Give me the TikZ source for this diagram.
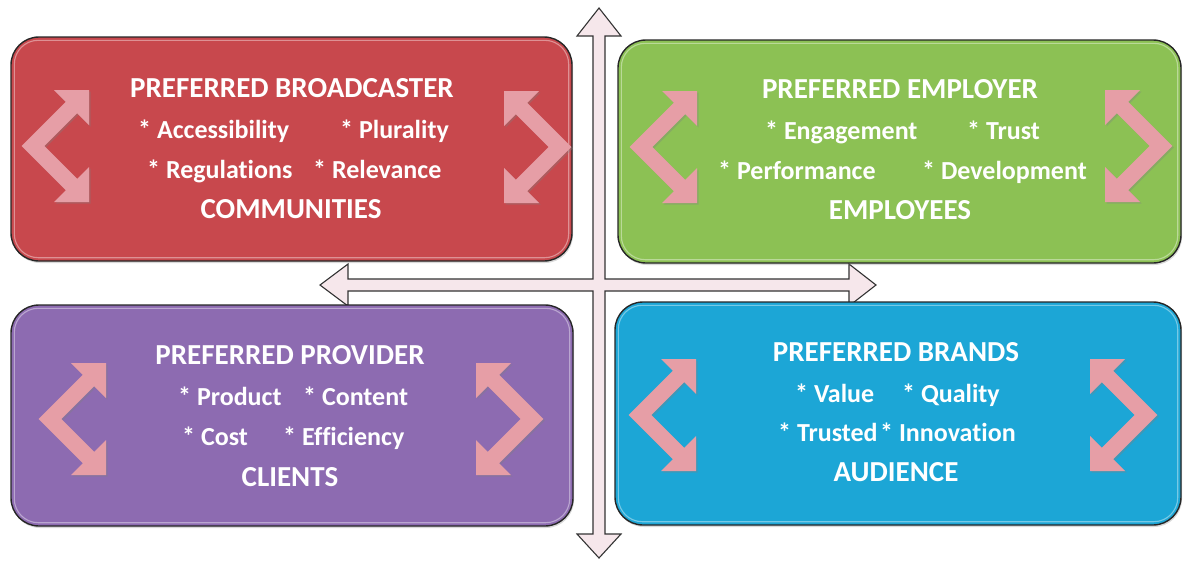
\documentclass[tikz,border=0pt]{standalone}
\usepackage{fontspec}
\setmainfont{Carlito}[Ligatures=NoCommon]
\usepackage{tikz}
\usetikzlibrary{shadows}
\definecolor{bcastred}{RGB}{200,72,77}
\definecolor{employgreen}{RGB}{140,193,84}
\definecolor{providepurple}{RGB}{141,107,177}
\definecolor{brandblue}{RGB}{28,166,214}
\definecolor{flowpink}{RGB}{230,158,166}
\definecolor{crosspink}{RGB}{246,231,235}

\begin{document}
\begin{tikzpicture}[x=1pt, y=-1pt,
    quad/.style={draw=black!85, line width=1.4pt, rounded corners=28pt, inner sep=0pt,
                 drop shadow={shadow xshift=1pt, shadow yshift=-2pt, opacity=.3}},
    gloss/.style={white, opacity=.4, line width=1.1pt, rounded corners=24pt},
    head/.style={text=white, inner sep=0pt, anchor=base,
                 font=\fontsize{29}{35}\selectfont\bfseries},
    item/.style={head, anchor=base west, font=\fontsize{26}{32}\selectfont\bfseries},
    flow/.pic={
      \fill[flowpink, drop shadow={shadow xshift=1.5pt, shadow yshift=-1.5pt, opacity=.35}]
        (-11.3,0) -- (32.85,44.15) -- (21,56) -- (56,56) -- (56,21) -- (44.15,32.85)
        -- (11.3,0) -- (44.15,-32.85) -- (56,-21) -- (56,-56) -- (21,-56) -- (32.85,-44.15) -- cycle;
    }]
  \useasboundingbox (0,0) rectangle (1184,560);

  % the cross in the middle
  \draw[fill=crosspink, draw=black!80, line width=1.1pt, line join=miter]
    (599,8) -- (621,36) -- (605,36) -- (605,279) -- (849,279) -- (849,264) -- (876,285)
    -- (849,306) -- (849,291) -- (605,291) -- (605,534) -- (621,534) -- (599,558)
    -- (577,534) -- (593,534) -- (593,291) -- (348,291) -- (348,306) -- (320,285)
    -- (348,264) -- (348,279) -- (593,279) -- (593,36) -- (577,36) -- cycle;

  % the four boxes
  \node[quad, fill=bcastred, minimum width=561, minimum height=224] (bcast) at (291.5,149) {};
  \node[quad, fill=employgreen, minimum width=563, minimum height=223] (employ) at (899.5,151.5) {};
  \node[quad, fill=providepurple, minimum width=562, minimum height=221] (provide) at (292,415.5) {};
  \node[quad, fill=brandblue, minimum width=566, minimum height=223] (brand) at (898,413.5) {};
  \foreach \b in {bcast, employ, provide, brand}
    \draw[gloss] ([shift={(4,4)}]\b.north west) rectangle ([shift={(-4,-4)}]\b.south east);

  % bent arrows, left and right of each box
  \pic at (33,146) {flow};
  \pic[xscale=-1] at (560,147) {flow};
  \pic at (641,147) {flow};
  \pic[xscale=-1] at (1161,146) {flow};
  \pic at (50,419) {flow};
  \pic[xscale=-1] at (532,419) {flow};
  \pic at (640,415) {flow};
  \pic[xscale=-1] at (1146,415) {flow};

  \node[head] (bcast-t) at (292,97) {PREFERRED BROADCASTER};
  \node[item] (bcast-a) at (138,138) {* Accessibility};
  \node[item] (bcast-p) at (340,138) {* Plurality};
  \node[item] (bcast-r) at (147,178) {* Regulations};
  \node[item] (bcast-v) at (313,178) {* Relevance};
  \node[head] (bcast-c) at (291,218) {COMMUNITIES};

  \node[head] (employ-t) at (900,98) {PREFERRED EMPLOYER};
  \node[item] (employ-e) at (765,139) {* Engagement};
  \node[item] (employ-u) at (967,139) {* Trust};
  \node[item] (employ-p) at (718,179) {* Performance};
  \node[item] (employ-d) at (922,179) {* Development};
  \node[head] (employ-c) at (900,219) {EMPLOYEES};

  \node[head] (provide-t) at (290,364) {PREFERRED PROVIDER};
  \node[item] (provide-p) at (178,405) {* Product};
  \node[item] (provide-n) at (303,405) {* Content};
  \node[item] (provide-o) at (182,445) {* Cost};
  \node[item] (provide-e) at (283,445) {* Efficiency};
  \node[head] (provide-c) at (290,486) {CLIENTS};

  \node[head] (brand-t) at (896,361) {PREFERRED BRANDS};
  \node[item] (brand-v) at (795,402) {* Value};
  \node[item] (brand-q) at (902,402) {* Quality};
  \node[item] (brand-r) at (778,441) {* Trusted};
  \node[item] (brand-i) at (880,441) {* Innovation};
  \node[head] (brand-c) at (896,481) {AUDIENCE};
\end{tikzpicture}
\end{document}
